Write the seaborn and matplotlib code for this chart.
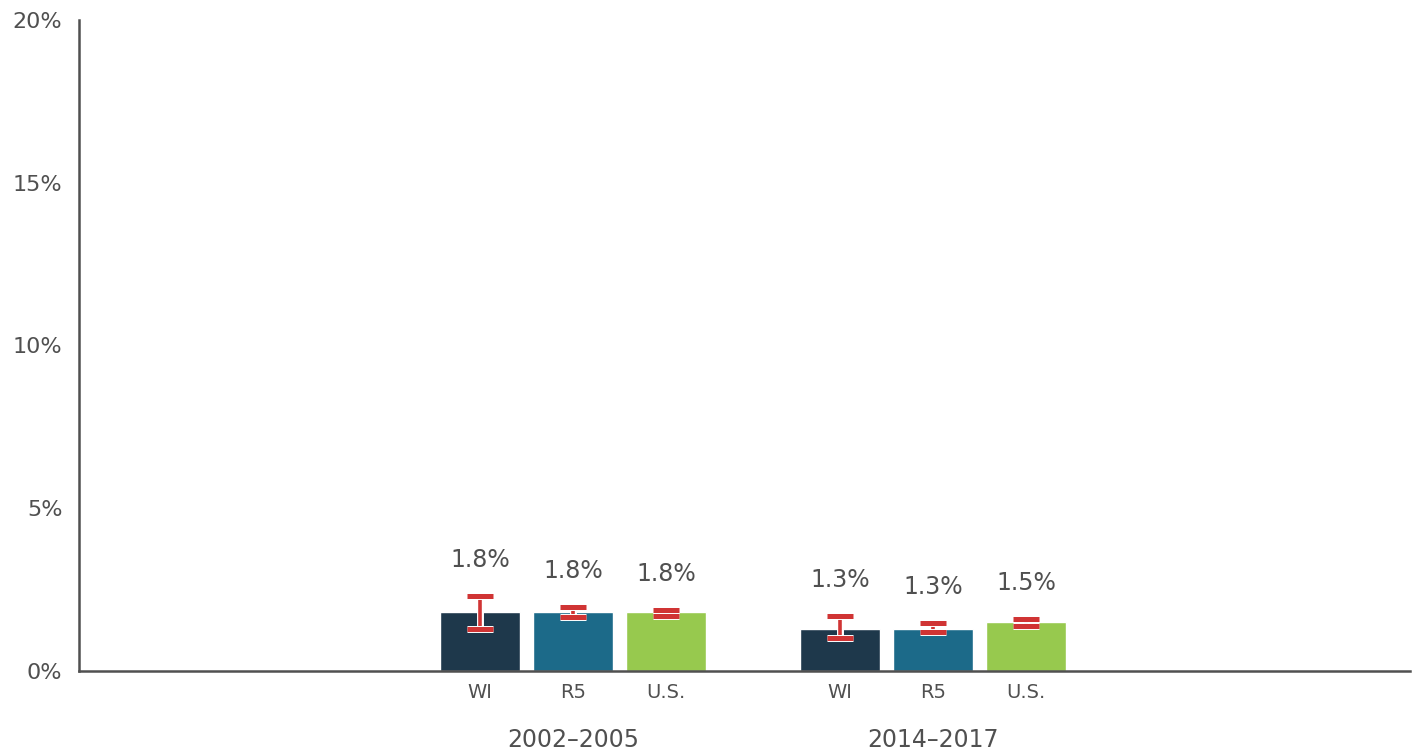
import matplotlib
matplotlib.use("Agg")
import matplotlib.pyplot as plt
import matplotlib.patheffects as pe
import seaborn as sns
import pandas as pd

# data
periods = ["2002–2005", "2014–2017"]
regions = ["WI", "R5", "U.S."]
values = {
    "WI": [1.8, 1.3],
    "R5": [1.8, 1.3],
    "U.S.": [1.8, 1.5],
}
err_low = {
    "WI": [1.29, 1.01],
    "R5": [1.66, 1.20],
    "U.S.": [1.69, 1.38],
}
err_high = {
    "WI": [2.30, 1.69],
    "R5": [1.97, 1.47],
    "U.S.": [1.87, 1.60],
}
colors = ["#1e384b", "#1c6a89", "#97c94e"]
y_ticks = [0, 5, 10, 15, 20]

text_color = "#505050"
red = "#d03434"

sns.set_theme(style="white")
plt.rcParams["font.family"] = ["DejaVu Sans"]

rows = []
for r in regions:
    for i, p in enumerate(periods):
        rows.append({"period": p, "region": r, "value": values[r][i],
                     "lo": err_low[r][i], "hi": err_high[r][i]})
df = pd.DataFrame(rows)

fig = plt.figure(figsize=(14.22, 7.55), dpi=100)
ax = fig.add_axes([0.0556, 0.1113, 0.936, 0.8622])

sns.barplot(data=df, x="period", y="value", hue="region", order=periods,
            hue_order=regions, palette=colors, width=0.775, gap=0.14,
            saturation=1, legend=False, errorbar=None, ax=ax)

# error bars, labels and tick positions from the drawn bars
centers = []
names = []
for r, cont in zip(regions, ax.containers):
    sub = df[df["region"] == r].set_index("period").loc[periods]
    for bar, (_, row) in zip(cont, sub.iterrows()):
        xc = bar.get_x() + bar.get_width() / 2
        centers.append(xc)
        names.append(r)
        eb = ax.errorbar([xc], [row["value"]],
                         yerr=[[row["value"] - row["lo"]], [row["hi"] - row["value"]]],
                         fmt="none", ecolor=red, elinewidth=2.6, capsize=9.5,
                         capthick=3.6, zorder=5)
        for art in eb.get_children():
            art.set_path_effects([pe.withStroke(linewidth=5, foreground="white")])
        ax.annotate(f"{row['value']:.1f}%", (xc, row["hi"]), xytext=(0, 36),
                    textcoords="offset pixels", ha="center", va="center",
                    fontsize=17, color=text_color)

ax.set_xlim(-1.372, 2.325)
ax.set_ylim(0, 20)
ax.set_yticks(y_ticks)
ax.set_yticklabels([f"{t}%" for t in y_ticks])
ax.set_xticks(centers)
ax.set_xticklabels(names)
ax.set_xlabel("")
ax.set_ylabel("")
ax.tick_params(axis="y", length=0, pad=12, labelsize=16, labelcolor=text_color)
ax.tick_params(axis="x", length=0, pad=9, labelsize=14, labelcolor=text_color)

sec = ax.secondary_xaxis("bottom")
sec.set_xticks(range(len(periods)))
sec.set_xticklabels(periods)
sec.tick_params(length=0, pad=41, labelsize=17, labelcolor=text_color)
sec.spines["bottom"].set_visible(False)

for s in ["top", "right"]:
    ax.spines[s].set_visible(False)
for s in ["left", "bottom"]:
    ax.spines[s].set_color(text_color)
    ax.spines[s].set_linewidth(1.8)

fig.savefig("out.png", dpi=100)
